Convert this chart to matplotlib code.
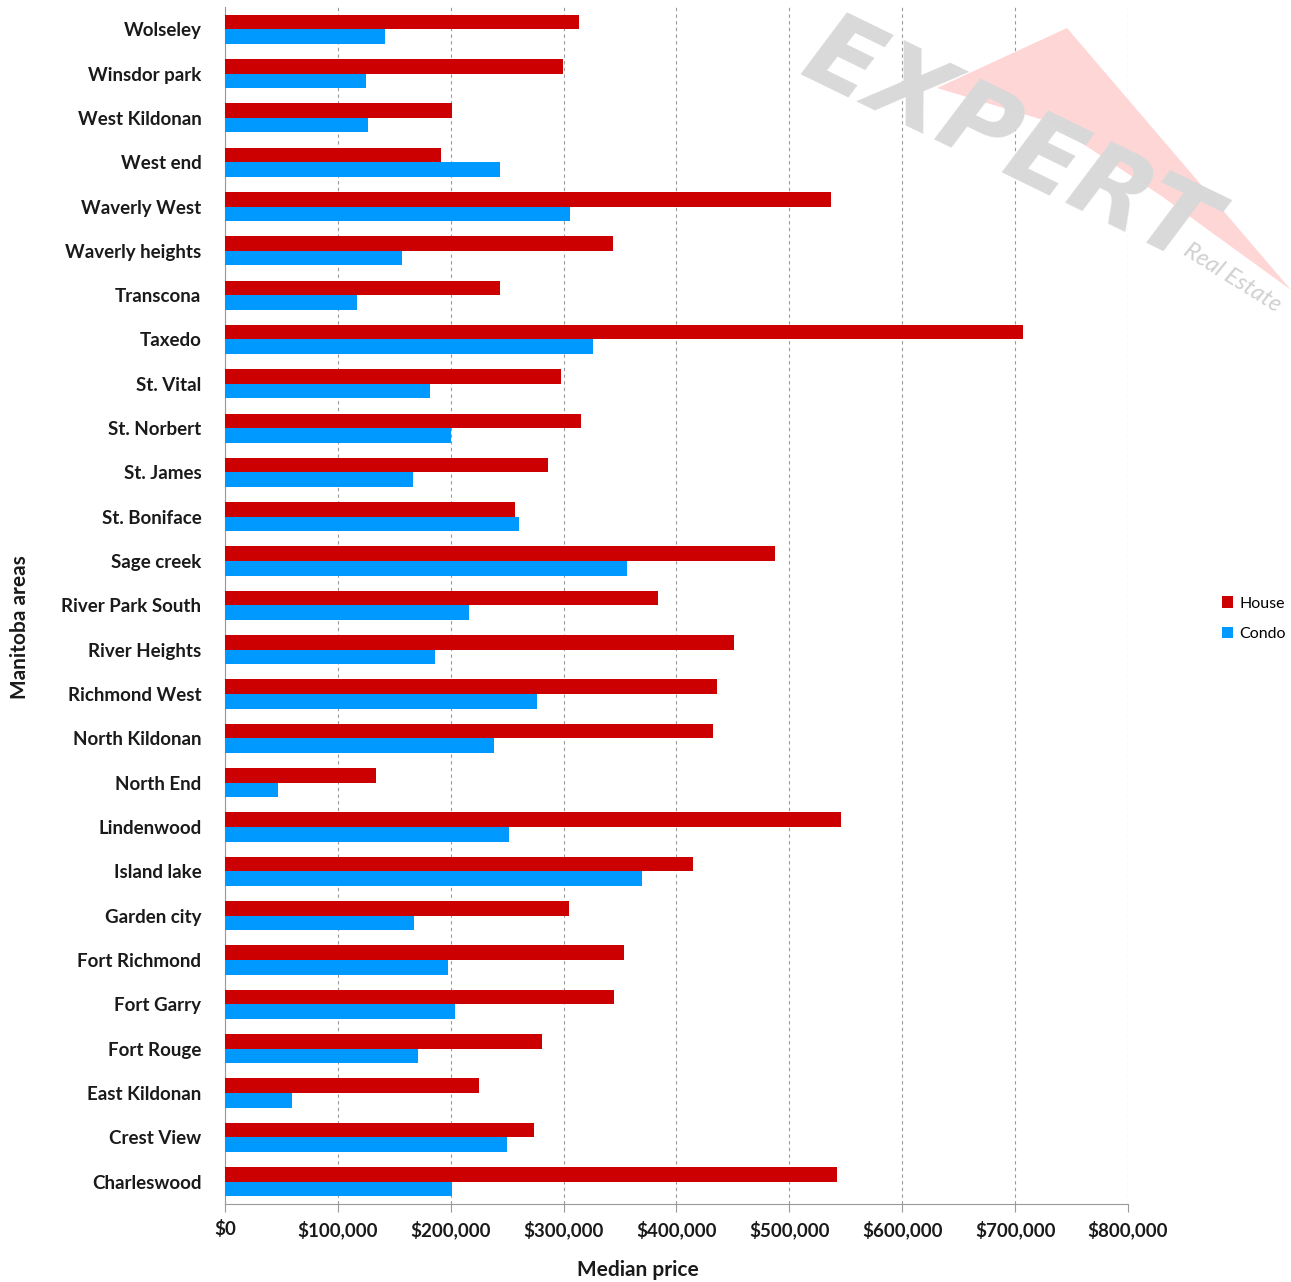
import numpy as np
import matplotlib.pyplot as plt
from matplotlib.patches import Polygon
from matplotlib.ticker import FuncFormatter

# Data (top to bottom as shown)
areas = ["Wolseley", "Winsdor park", "West Kildonan", "West end", "Waverly West",
         "Waverly heights", "Transcona", "Taxedo", "St. Vital", "St. Norbert",
         "St. James", "St. Boniface", "Sage creek", "River Park South", "River Heights",
         "Richmond West", "North Kildonan", "North End", "Lindenwood", "Island lake",
         "Garden city", "Fort Richmond", "Fort Garry", "Fort Rouge", "East Kildonan",
         "Crest View", "Charleswood"]
house = [313600, 299500, 201100, 191400, 536900,
         343700, 243600, 707000, 297700, 315400,
         286200, 256900, 487300, 383600, 451000,
         435900, 432300, 133800, 545700, 414600,
         304800, 353500, 344600, 280800, 225000,
         273800, 542200]
condo = [141700, 124900, 126700, 243600, 305600,
         156800, 116900, 326000, 181600, 200200,
         166600, 260500, 356200, 216200, 186000,
         276400, 238300, 47000, 251600, 369400,
         167400, 197600, 203800, 171000, 59400,
         249800, 201100]

plt.rcParams['font.family'] = ['Lato', 'DejaVu Sans']

W, H = 1291, 1282
fig = plt.figure(figsize=(12.91, 12.82), dpi=100)
ax = fig.add_axes([0.1743, 0.0610, 0.6994, 0.9335])

n = len(areas)
y = np.arange(n)[::-1]
h = 0.33
ax.barh(y + h/2, house, height=h, color='#CC0000', label='House', zorder=3)
ax.barh(y - h/2, condo, height=h, color='#0099FF', label='Condo', zorder=3)

ax.set_ylim(-0.5, n - 0.5)
ax.set_xlim(0, 800000)
ax.set_yticks(y)
ax.set_yticklabels(areas, fontsize=13.5, fontweight='bold', color='#1a1a1a')
ax.tick_params(axis='y', length=0, pad=17)
ax.set_xticks(np.arange(0, 800001, 100000))
ax.xaxis.set_major_formatter(FuncFormatter(lambda v, p: '${:,.0f}'.format(v)))
ax.tick_params(axis='x', length=6, color='#999999', labelsize=13.5, pad=6)
for lab in ax.get_xticklabels():
    lab.set_fontweight('bold')
    lab.set_color('#1a1a1a')

ax.grid(axis='x', linestyle=(0, (3, 3)), color='#999999', linewidth=0.8, zorder=0)
for s in ['top', 'right']:
    ax.spines[s].set_visible(False)
for s in ['left', 'bottom']:
    ax.spines[s].set_color('#999999')

fig.text(638 / W, 1 - 1270 / H, 'Median price', fontsize=15, fontweight='bold',
         ha='center', va='center', color='#1a1a1a')
fig.text(20 / W, 1 - 627 / H, 'Manitoba areas', fontsize=15, fontweight='bold',
         rotation=90, ha='center', va='center', color='#1a1a1a')

ax.legend(loc='center left', bbox_to_anchor=(1.088, 0.489), frameon=False,
          fontsize=11.5, handlelength=0.7, handleheight=0.7, handletextpad=0.4,
          labelspacing=1.0)

# watermark
def fp(px, py):
    return (px / W, 1 - py / H)
tri = Polygon([fp(937, 88), fp(1067, 28), fp(1291, 290), fp(1160, 195), fp(1050, 122)],
              closed=True, transform=fig.transFigure, facecolor='#FFD6D6',
              edgecolor='none', zorder=0)
fig.patches.append(tri)
fig.text(1008 / W, 1 - 145 / H, 'EXPERT', fontsize=74, fontweight='heavy',
         fontstyle='italic', color='#D9D9D9', rotation=-26, ha='center', va='center',
         family='DejaVu Sans', zorder=1)
fig.text(1232 / W, 1 - 278 / H, 'Real Estate', fontsize=17, fontstyle='italic',
         color='#D0D0D0', rotation=-32, ha='center', va='center', zorder=1)

fig.savefig('out.png', dpi=100)
